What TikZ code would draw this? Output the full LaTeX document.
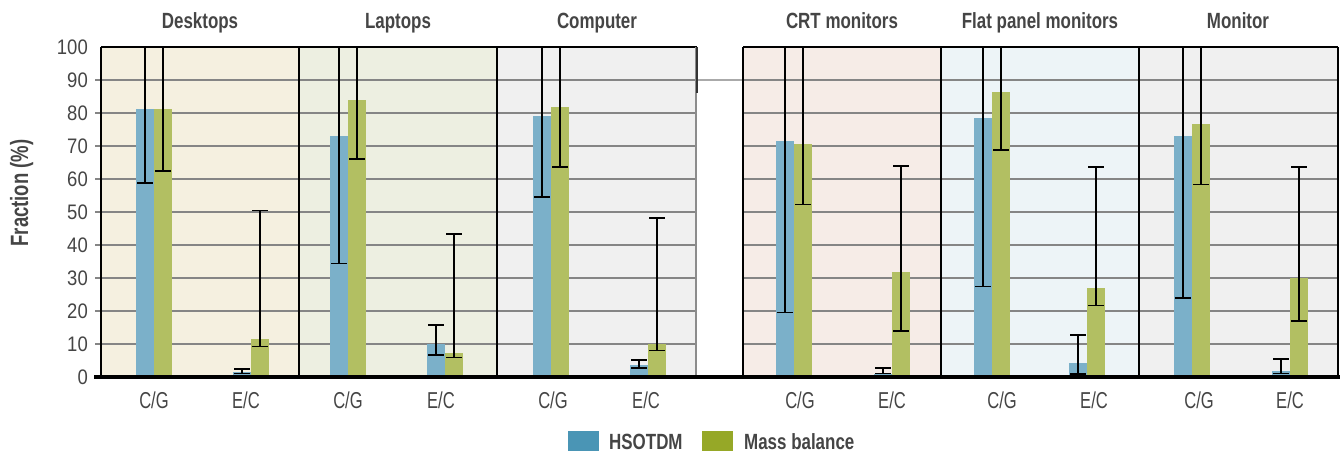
\documentclass[tikz,border=0pt]{standalone}
\usepackage{fontspec}
\setmainfont{Liberation Sans}
\newfontfamily\headfont{Liberation Sans}[FakeStretch=0.77]
\newfontfamily\axisfont{Liberation Sans}[FakeStretch=0.74]
\newfontfamily\catfont{Liberation Sans}[FakeStretch=0.72]
\newfontfamily\tickfont{Liberation Sans}[FakeStretch=0.88]

\definecolor{bgdesk}{HTML}{F5F0E0}
\definecolor{bglap}{HTML}{EDEFE1}
\definecolor{bgcomp}{HTML}{F0F0F0}
\definecolor{bgcrt}{HTML}{F6ECE7}
\definecolor{bgflat}{HTML}{EDF4F7}
\definecolor{bgmon}{HTML}{F0F0F0}
\definecolor{barblue}{HTML}{7BB0C9}
\definecolor{bargreen}{HTML}{B2BF62}
\definecolor{legblue}{HTML}{4A95B5}
\definecolor{leggreen}{HTML}{96A827}
\definecolor{gridgray}{HTML}{858585}
\definecolor{textgray}{HTML}{454545}

\tikzset{
  gridline/.style={draw=gridgray, line width=1.5pt},
  frame/.style={draw=black, line width=1.5pt},
  errbar/.style={draw=black, line width=1.5pt},
  headlabel/.style={inner sep=0pt, anchor=base, text=textgray, font=\headfont\bfseries\fontsize{22}{24}\selectfont},
  axislabel/.style={inner sep=0pt, anchor=base, text=textgray, font=\axisfont\bfseries\fontsize{25}{27}\selectfont},
  catlabel/.style={inner sep=0pt, anchor=base, text=textgray, font=\catfont\fontsize{23}{25}\selectfont},
  ticklabel/.style={inner sep=0pt, anchor=east, text=textgray, font=\tickfont\fontsize{21}{23}\selectfont},
}

\begin{document}
\begin{tikzpicture}[x=1pt,y=-1pt]
\useasboundingbox (0,0) rectangle (1340,456);

% panel backgrounds
\fill[bgdesk] (101,47) rectangle (299,377);
\fill[bglap]  (299,47) rectangle (497,377);
\fill[bgcomp] (497,47) rectangle (697,377);
\fill[bgcrt]  (743,47) rectangle (941,377);
\fill[bgflat] (941,47) rectangle (1139,377);
\fill[bgmon]  (1139,47) rectangle (1338,377);

% horizontal grid
\foreach \v in {10,20,...,90} {
  \draw[gridline] (95,{377-3.3*\v}) -- (697,{377-3.3*\v});
  \draw[gridline] (743,{377-3.3*\v}) -- (1338,{377-3.3*\v});
}
\draw[gridline, draw=gridgray!70] (697,{377-3.3*90}) -- (743,{377-3.3*90});

% bars and error bars: centre / blue value, low, high / green value, low, high
\foreach \c/\bv/\bl/\bh/\gv/\gl/\gh in {
  154/81.2/58.8/100/81.2/62.4/100,
  251/1.5/1.1/2.4/11.5/9.3/50.5,
  348/73/34.4/100/84/66/100,
  445/10.1/6.6/15.8/7.3/5.9/43.4,
  551/79.1/54.6/100/81.8/63.6/100,
  648/3.6/2.7/5.2/10.1/8.1/48.2,
  794/71.5/19.5/100/70.6/52.3/100,
  892/0.8/1.1/2.8/31.7/13.9/64,
  992/78.5/27.5/100/86.4/68.8/100,
  1087/4.2/0.9/12.8/27/21.7/63.7,
  1192/73/24/100/76.7/58.3/100,
  1290/1.8/1.1/5.5/30.1/16.9/63.7} {
  \fill[barblue]  ({\c-18},377) rectangle (\c,{377-3.3*\bv});
  \fill[bargreen] (\c,377) rectangle ({\c+18},{377-3.3*\gv});
  \draw[errbar] ({\c-9},{377-3.3*\bl}) -- ({\c-9},{377-3.3*\bh});
  \draw[errbar] ({\c-17},{377-3.3*\bl}) -- ({\c-1},{377-3.3*\bl});
  \ifdim\bh pt<99pt
    \draw[errbar] ({\c-17},{377-3.3*\bh}) -- ({\c-1},{377-3.3*\bh});
  \fi
  \draw[errbar] ({\c+9},{377-3.3*\gl}) -- ({\c+9},{377-3.3*\gh});
  \draw[errbar] ({\c+1},{377-3.3*\gl}) -- ({\c+17},{377-3.3*\gl});
  \ifdim\gh pt<99pt
    \draw[errbar] ({\c+1},{377-3.3*\gh}) -- ({\c+17},{377-3.3*\gh});
  \fi
}

% panel frames
\draw[frame] (101,47) -- (697,47);
\draw[frame] (743,47) -- (1338,47);
\foreach \x in {299,497,743,941,1139,1338} \draw[frame] (\x,47) -- (\x,377);
\draw[frame, draw=gray!90] (696,47) -- (696,377);
\draw[frame, draw=black!80] (697,47) -- (697,93);
\draw[draw=black, line width=2pt] (101,47) -- (101,377);
\draw[draw=black, line width=3.2pt] (94,377) -- (1340,377);

% y ticks
\foreach \v in {0,10,...,100}
  \node[ticklabel] (tick\v) at (88,{377-3.3*\v}) {\v};
\node[axislabel, rotate=90] (ytitle) at (28,193) {Fraction (\%)};

% panel titles
\foreach \x/\t [count=\i] in {200/Desktops, 398/Laptops, 597/Computer,
    842/CRT monitors, 1040/Flat panel monitors, 1238/Monitor}
  \node[headlabel] (title\i) at (\x,28) {\t};

% category labels
\foreach \x/\t [count=\i] in {154/C\slash G, 246/E\slash C, 348/C\slash G, 441/E\slash C,
    553/C\slash G, 646/E\slash C, 800/C\slash G, 892/E\slash C,
    1002/C\slash G, 1094/E\slash C, 1199/C\slash G, 1290/E\slash C}
  \node[catlabel] (cat\i) at (\x,408) {\t};

% legend
\fill[legblue]  (568,431) rectangle (599,451);
\node[headlabel, anchor=base west] (leghs) at (609,449) {HSOTDM};
\fill[leggreen] (702,431) rectangle (733,451);
\node[headlabel, anchor=base west] (legmb) at (744,449) {Mass balance};
\end{tikzpicture}
\end{document}
